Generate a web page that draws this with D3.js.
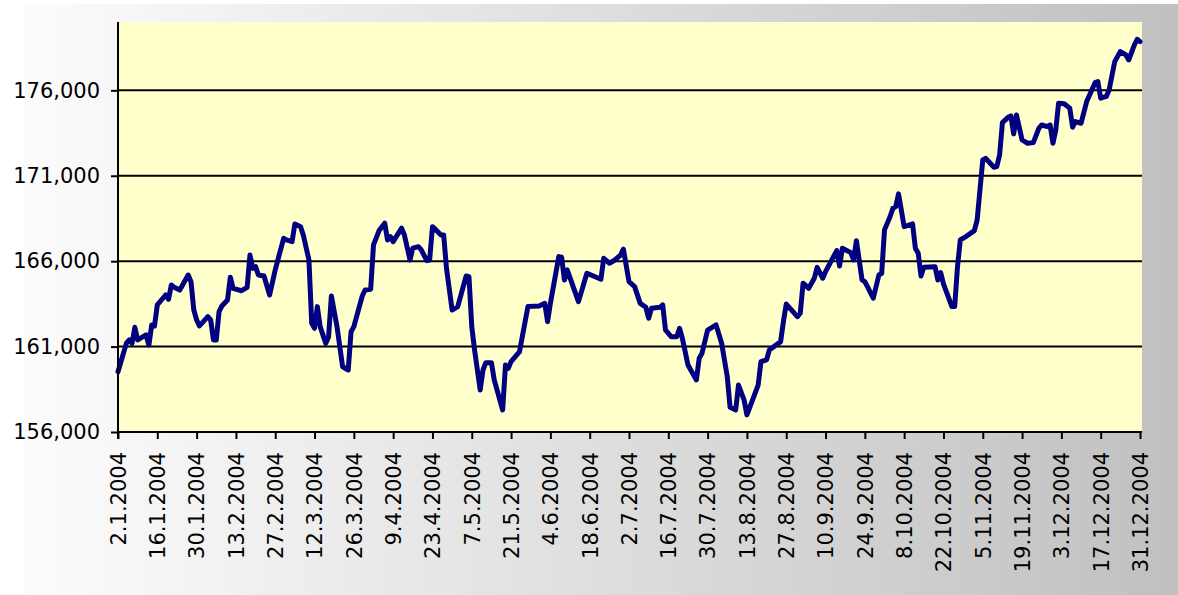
<!DOCTYPE html>
<html>
<head>
<meta charset="utf-8">
<script src="https://cdnjs.cloudflare.com/ajax/libs/d3/7.8.5/d3.min.js"></script>
<style>
    body { margin: 0; background: #ffffff; }
</style>
</head>
<body>
<div id="chart"></div>
<script>
// daily values (d.m.yyyy)
var dates = [
    "2.1.2004","5.1.2004","6.1.2004","7.1.2004","8.1.2004","9.1.2004","12.1.2004","13.1.2004","14.1.2004","15.1.2004","16.1.2004","18.1.2004","19.1.2004","20.1.2004","21.1.2004","22.1.2004","24.1.2004","27.1.2004","28.1.2004","29.1.2004","30.1.2004","31.1.2004",
    "3.2.2004","4.2.2004","5.2.2004","6.2.2004","7.2.2004","8.2.2004","10.2.2004","11.2.2004","12.2.2004","15.2.2004","17.2.2004","18.2.2004","19.2.2004","20.2.2004","21.2.2004","23.2.2004","25.2.2004","27.2.2004",
    "1.3.2004","2.3.2004","4.3.2004","5.3.2004","7.3.2004","8.3.2004","10.3.2004","11.3.2004","12.3.2004","13.3.2004","14.3.2004","16.3.2004","17.3.2004","18.3.2004","20.3.2004","22.3.2004","24.3.2004","25.3.2004","26.3.2004","29.3.2004","30.3.2004",
    "1.4.2004","2.4.2004","4.4.2004","6.4.2004","7.4.2004","8.4.2004","9.4.2004","12.4.2004","13.4.2004","15.4.2004","16.4.2004","18.4.2004","19.4.2004","21.4.2004","22.4.2004","23.4.2004","24.4.2004","26.4.2004","27.4.2004","28.4.2004","30.4.2004",
    "2.5.2004","5.5.2004","6.5.2004","7.5.2004","8.5.2004","10.5.2004","11.5.2004","12.5.2004","14.5.2004","15.5.2004","18.5.2004","19.5.2004","20.5.2004","21.5.2004","24.5.2004","27.5.2004","31.5.2004",
    "2.6.2004","3.6.2004","4.6.2004","7.6.2004","8.6.2004","9.6.2004","10.6.2004","14.6.2004","17.6.2004","22.6.2004","23.6.2004","25.6.2004","27.6.2004","29.6.2004","30.6.2004",
    "2.7.2004","4.7.2004","6.7.2004","8.7.2004","9.7.2004","10.7.2004","13.7.2004","14.7.2004","15.7.2004","17.7.2004","19.7.2004","20.7.2004","21.7.2004","23.7.2004","26.7.2004","27.7.2004","28.7.2004","30.7.2004",
    "2.8.2004","4.8.2004","6.8.2004","7.8.2004","9.8.2004","10.8.2004","12.8.2004","13.8.2004","17.8.2004","18.8.2004","20.8.2004","21.8.2004","25.8.2004","26.8.2004","27.8.2004","31.8.2004",
    "1.9.2004","2.9.2004","4.9.2004","6.9.2004","7.9.2004","9.9.2004","10.9.2004","14.9.2004","15.9.2004","16.9.2004","19.9.2004","20.9.2004","21.9.2004","23.9.2004","24.9.2004","27.9.2004","29.9.2004","30.9.2004",
    "1.10.2004","3.10.2004","4.10.2004","5.10.2004","6.10.2004","8.10.2004","11.10.2004","12.10.2004","13.10.2004","14.10.2004","15.10.2004","19.10.2004","20.10.2004","21.10.2004","22.10.2004","25.10.2004","26.10.2004","27.10.2004","28.10.2004","30.10.2004",
    "2.11.2004","3.11.2004","5.11.2004","6.11.2004","9.11.2004","10.11.2004","11.11.2004","12.11.2004","14.11.2004","15.11.2004","16.11.2004","17.11.2004","19.11.2004","21.11.2004","23.11.2004","25.11.2004","26.11.2004","28.11.2004","29.11.2004","30.11.2004",
    "1.12.2004","2.12.2004","4.12.2004","6.12.2004","7.12.2004","8.12.2004","10.12.2004","12.12.2004","15.12.2004","16.12.2004","17.12.2004","19.12.2004","20.12.2004","22.12.2004","24.12.2004","26.12.2004","27.12.2004","29.12.2004","30.12.2004","31.12.2004"
];
var values = [
    159530,161200,161390,161190,162130,161390,161680,161090,162260,162210,163440,163830,164020,163770,164610,164470,164310,165190,164800,163140,162560,162210,
    162750,162560,161390,161390,163050,163380,163730,165060,164410,164270,164470,166360,165580,165680,165190,165130,164020,165490,
    167340,167240,167140,168180,168020,167530,166070,162360,162070,163340,162170,161190,161580,163960,162170,159820,159630,161870,162170,163960,164310,
    164360,166950,167790,168220,167240,167440,167140,167930,167530,166070,166760,166850,166660,166030,166070,168020,167870,167530,167530,165580,163140,
    163340,165130,165090,162170,160800,158460,159630,160060,160060,159050,157290,159920,159730,160120,160700,163340,163380,
    163530,162460,163530,166270,166230,164900,165490,163630,165290,164940,166170,165880,166070,166360,166700,
    164800,164510,163530,163300,162660,163240,163300,163440,161970,161580,161580,162070,161490,159920,159050,160320,160610,161970,
    162270,161190,159240,157450,157290,158750,157870,157000,158750,160120,160220,160800,161290,162460,163490,162750,
    162950,164710,164410,165000,165640,165000,165390,166620,165720,166760,166500,166070,167200,164900,164800,163830,165190,165290,
    167830,168610,169100,169190,169940,168020,168180,166760,166460,165130,165640,165680,164900,165330,164670,163340,163340,165680,167240,167440,
    167790,168410,171930,172020,171500,171540,172220,174110,174420,174500,173450,174560,173100,172900,172940,173790,173970,173880,173970,172900,
    173680,175250,175210,174950,173840,174170,174070,175340,176450,176510,175540,175640,176020,177680,178270,178070,177780,178660,178990,178850
];

// axis ticks
var yTicks = [156000, 161000, 166000, 171000, 176000];
var xTickLabels = [
    "2.1.2004","16.1.2004","30.1.2004","13.2.2004","27.2.2004","12.3.2004","26.3.2004","9.4.2004","23.4.2004",
    "7.5.2004","21.5.2004","4.6.2004","18.6.2004","2.7.2004","16.7.2004","30.7.2004","13.8.2004","27.8.2004",
    "10.9.2004","24.9.2004","8.10.2004","22.10.2004","5.11.2004","19.11.2004","3.12.2004","17.12.2004","31.12.2004"
];

var svgWidth = 1178;
var svgHeight = 595;

// plot area box
var plot = { left: 118, top: 22, right: 1142, bottom: 432 };

var parseDate = d3.timeParse("%d.%m.%Y");

var data = dates.map(function(d, i) {
    return { date: parseDate(d), value: values[i] };
});

var svg = d3.select("#chart")
    .append("svg")
    .attr("width", svgWidth)
    .attr("height", svgHeight);

// background gradient white -> grey
var grad = svg.append("defs")
    .append("linearGradient")
    .attr("id", "bg")
    .attr("x1", "0%").attr("x2", "100%")
    .attr("y1", "0%").attr("y2", "0%");
grad.append("stop").attr("offset", "0%").attr("stop-color", "#fcfcfc");
grad.append("stop").attr("offset", "100%").attr("stop-color", "#c0c0c0");

svg.append("rect")
    .attr("x", 24)
    .attr("y", 4)
    .attr("width", svgWidth - 24)
    .attr("height", svgHeight - 4)
    .attr("fill", "url(#bg)");

// plot area
svg.append("rect")
    .attr("x", plot.left)
    .attr("y", plot.top)
    .attr("width", plot.right - plot.left)
    .attr("height", plot.bottom - plot.top)
    .attr("fill", "#ffffcc");

// scales
var xScale = d3.scaleTime()
    .domain([parseDate("2.1.2004"), parseDate("31.12.2004")])
    .range([plot.left, 1140]);

var yScale = d3.scaleLinear()
    .domain([156000, 180000])
    .range([plot.bottom, plot.top]);

// gridlines
svg.append("g")
    .selectAll("line")
    .data(yTicks.slice(1))
    .enter()
    .append("line")
    .attr("x1", plot.left)
    .attr("x2", plot.right)
    .attr("y1", d => yScale(d))
    .attr("y2", d => yScale(d))
    .attr("stroke", "#000")
    .attr("stroke-width", 2);

// line
var line = d3.line()
    .x(d => xScale(d.date))
    .y(d => yScale(d.value));

svg.append("path")
    .datum(data)
    .attr("d", line)
    .attr("fill", "none")
    .attr("stroke", "#000080")
    .attr("stroke-width", 5)
    .attr("stroke-linejoin", "round")
    .attr("stroke-linecap", "round");

// y axis
var leftAxis = d3.axisLeft(yScale)
    .tickValues(yTicks)
    .tickFormat(d3.format(","))
    .tickSize(7)
    .tickSizeOuter(0)
    .tickPadding(11);

var yAxis = svg.append("g")
    .attr("transform", `translate(${plot.left}, 0)`)
    .call(leftAxis);

yAxis.select(".domain").attr("stroke-width", 2).attr("d", `M0,${plot.top}V${plot.bottom + 7}`);
yAxis.selectAll(".tick line").attr("stroke-width", 2);
yAxis.selectAll("text")
    .attr("font-family", "DejaVu Sans, Verdana, sans-serif")
    .attr("font-size", "21px")
    .attr("fill", "#000");

// x axis
var bottomAxis = d3.axisBottom(xScale)
    .tickValues(xTickLabels.map(parseDate))
    .tickFormat(d3.timeFormat("%-d.%-m.%Y"))
    .tickSize(7)
    .tickSizeOuter(0);

var xAxis = svg.append("g")
    .attr("transform", `translate(0, ${plot.bottom})`)
    .call(bottomAxis);

xAxis.select(".domain").attr("stroke-width", 2).attr("d", `M${plot.left},0H${plot.right}`);
xAxis.selectAll(".tick line").attr("stroke-width", 2);
xAxis.selectAll("text")
    .attr("font-family", "DejaVu Sans, Verdana, sans-serif")
    .attr("font-size", "21px")
    .attr("fill", "#000")
    .attr("text-anchor", "end")
    .attr("transform", "translate(0, 20) rotate(-90)")
    .attr("x", 0)
    .attr("y", 0)
    .attr("dy", "0.35em");
</script>
</body>
</html>
